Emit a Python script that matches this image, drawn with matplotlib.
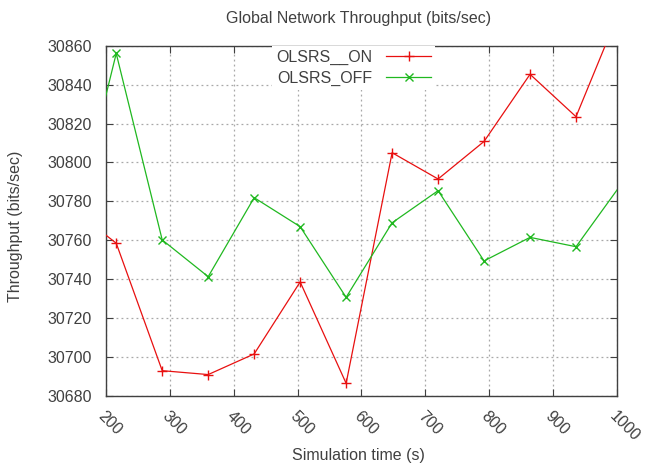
import matplotlib
matplotlib.use("Agg")
import matplotlib.pyplot as plt

# datos (el primer y ultimo punto quedan fuera del rango x)
tiempo = [144, 216, 288, 360, 432, 504, 576, 648, 720, 792, 864, 936, 1008]
olsrs_on = [30777, 30758.5, 30693, 30691, 30701.6, 30738.6, 30686.5,
            30805, 30791.5, 30810.8, 30845.3, 30823.5, 30881]
olsrs_off = [30760, 30856, 30760.2, 30741.3, 30781.9, 30767, 30730.7,
             30769, 30785.5, 30749.4, 30761.5, 30756.7, 30789.4]

xticks = list(range(200, 1001, 100))
yticks = list(range(30680, 30861, 20))

plt.rcParams['font.family'] = ['Liberation Sans', 'DejaVu Sans']
plt.rcParams['font.size'] = 11.5
texto = '#404040'

fig = plt.figure(figsize=(6.48, 4.69), dpi=100)
ax = fig.add_axes([0.1636, 0.1557, 0.952 - 0.1636, 0.9026 - 0.1557])

ax.plot(tiempo, olsrs_on, color='#e81010', lw=0.9, marker='+', ms=7,
        mew=1.0, label='OLSRS__ON', zorder=3)
ax.plot(tiempo, olsrs_off, color='#20b820', lw=0.9, marker='x', ms=5.5,
        mew=1.0, label='OLSRS_OFF', zorder=3)

ax.set_xlim(200, 1000)
ax.set_ylim(30680, 30860)
ax.set_xticks(xticks)
ax.set_yticks(yticks)
ax.set_xticklabels([str(t) for t in xticks], rotation=-45, ha='left',
                   va='top', rotation_mode='anchor')

ax.tick_params(direction='in', length=5, width=0.8, color=texto,
               top=True, right=True, labelcolor=texto)
ax.tick_params(axis='y', pad=10)
ax.tick_params(axis='x', pad=9)
for s in ax.spines.values():
    s.set_color(texto)
    s.set_linewidth(1.0)

ax.grid(True, color='#a8a8a8', linestyle=(0, (1.5, 2.5)), linewidth=0.9)
ax.set_axisbelow(True)

ax.set_title('Global Network Throughput (bits/sec)', color=texto,
             fontsize=11.5, pad=16.5, x=0.495)
ax.set_xlabel('Simulation time (s)', color=texto)
ax.set_ylabel('Throughput (bits/sec)', color=texto)
ax.xaxis.set_label_coords(0.495, -0.148)
ax.yaxis.set_label_coords(-0.162, 0.483)

leg = ax.legend(loc='upper left', bbox_to_anchor=(0.325, 1.0),
                markerfirst=False, frameon=True, fancybox=False,
                borderaxespad=0, borderpad=0.25, handlelength=2.8,
                handletextpad=0.9, labelspacing=0.35)
leg.get_frame().set_edgecolor('none')
leg.get_frame().set_facecolor('white')
leg.get_frame().set_alpha(1)
for t in leg.get_texts():
    t.set_color(texto)

fig.savefig('out.png', dpi=100)
